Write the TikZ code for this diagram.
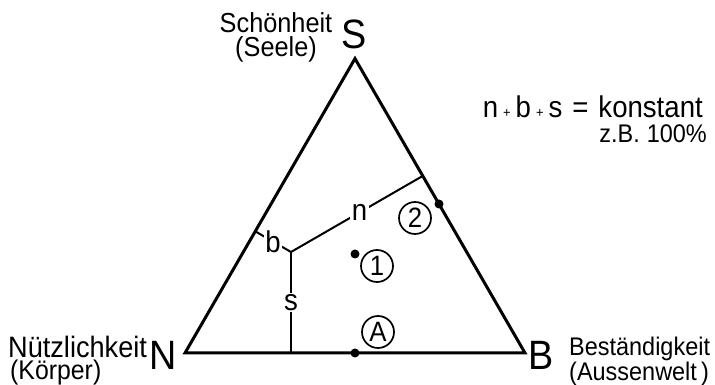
\documentclass[tikz,border=0pt]{standalone}
\usepackage{fontspec}
\setmainfont{Liberation Sans}[FakeStretch=0.92]
\begin{document}
\begin{tikzpicture}[x=1pt,y=1pt,
  big/.style={inner sep=0pt,font=\fontsize{41}{41}\selectfont},
  side/.style={line width=3pt,line join=miter},
  inner/.style={line width=2pt},
  var/.style={fill=white,inner sep=1.5pt,font=\fontsize{30}{30}\selectfont},
  dotp/.style={circle,fill=black,inner sep=0pt,minimum size=9pt},
  circ/.style={circle,draw,line width=1.7pt,inner sep=0pt,minimum size=32pt,font=\fontsize{28}{28}\selectfont}]
\useasboundingbox (0,0) rectangle (715,385);
% vertices
\coordinate (N) at (185,32);
\coordinate (B) at (525,32);
\coordinate (S) at (355,326.4);
\draw[side] (N) -- (B) -- (S) -- cycle;
% interior construction point
\coordinate (P) at (291,133);
\coordinate (Fs) at (291,32);
\coordinate (Fb) at (255.2,153.7);
\coordinate (Fn) at (422.8,209.1);
\draw[inner] (P) -- node[var,pos=0.5]{s} (Fs);
\draw[inner] (P) -- node[var,pos=0.5]{b} (Fb);
\draw[inner] (P) -- node[var,pos=0.52]{n} (Fn);
% points
\node[dotp] (d1) at (355,131) {};
\node[dotp] (d2) at (439,181) {};
\node[dotp] (dA) at (355,32) {};
\node[circ] (c1) at (377,119) {1};
\node[circ] (c2) at (415,167) {2};
\node[circ] (cA) at (378,53) {A};
% vertex letters
\node[big] (Sl) at (354,351) {S};
\node[big] (Nl) at (163,30) {N};
\node[big] (Bl) at (541,30) {B};
% labels
\node[inner sep=0pt,align=center,anchor=north,font=\fontsize{27.5}{24}\selectfont] (top) at (276,373) {Schönheit\\(Seele)};
\node[inner sep=0pt,align=left,anchor=north west,font=\fontsize{27}{22}\selectfont] (left) at (8,49)
  {{\fontsize{29.5}{22}\selectfont Nützlichkeit}\\\hspace{2pt}(Körper)};
\node[inner sep=0pt,align=left,anchor=north west,font=\fontsize{25.5}{22}\selectfont] (right) at (569,48) {Beständigkeit\\(Aussenwelt\,)};
\node[inner sep=0pt,font=\fontsize{30}{30}\selectfont,anchor=base east] (form) at (703,267)
  {n\hspace{5pt}{\fontsize{14}{14}\selectfont +}\hspace{5pt}b\hspace{5pt}{\fontsize{14}{14}\selectfont +}\hspace{5pt}s\hspace{10pt}=\hspace{10pt}konstant};
\node[inner sep=0pt,font=\fontsize{25.5}{25.5}\selectfont,anchor=base east] (zb) at (707,242) {z.B.\hspace{7pt}100\%};
\end{tikzpicture}
\end{document}
